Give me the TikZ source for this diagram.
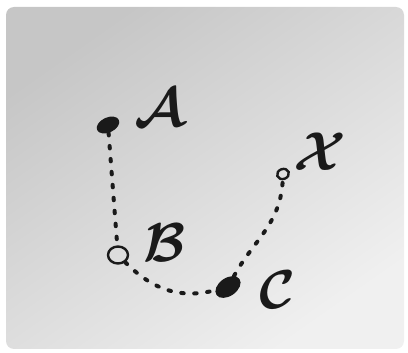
\documentclass[tikz,border=0pt]{standalone}
\usepackage{xcolor}
\usepackage{tikz}
\usetikzlibrary{shapes.geometric}
\definecolor{sketchink}{HTML}{1a1a1a}
\definecolor{paperdark}{HTML}{c6c6c6}
\definecolor{paperlight}{HTML}{f0f0f0}

\begin{document}
\begin{tikzpicture}[x=1pt,y=-1pt,
  blob/.style={ellipse,fill=sketchink,inner sep=0pt,minimum width=24pt,minimum height=15pt},
  ring/.style={ellipse,draw=sketchink,line width=2.4pt,inner sep=0pt},
  trail/.style={draw=sketchink,line width=4pt,line cap=round,dash pattern=on 2.5pt off 10.5pt},
  tag/.style={text=sketchink,font=\Huge\boldmath,scale=2.2,transform shape,inner sep=0pt}]
  \useasboundingbox (0,0) rectangle (408,353);
  \shade[rounded corners=8pt,top color=paperdark,bottom color=paperlight,shading angle=35] (6,7) rectangle (404,349);
  % points
  \node[blob,rotate=25] (A) at (108,125) {};
  \node[ring,minimum width=20pt,minimum height=17pt] (B) at (118,255) {};
  \node[blob,rotate=35,minimum width=28pt,minimum height=18pt] (C) at (228,287) {};
  \node[ring,minimum width=12pt,minimum height=10pt,rotate=20] (X) at (283,174) {};
  % labels
  \node[tag] (Atag) at (160,108) {$\mathcal{A}$};
  \node[tag] (Btag) at (165,243) {$\mathcal{B}$};
  \node[tag] (Ctag) at (278,290) {$\mathcal{C}$};
  \node[tag] (Xtag) at (320,152) {$\mathcal{X}$};
  % dotted paths
  \draw[trail] (A) -- (B);
  \draw[trail] (B) to[out=-45,in=185] (C);
  \draw[trail] (C) to[out=55,in=-95] (X);
\end{tikzpicture}
\end{document}
